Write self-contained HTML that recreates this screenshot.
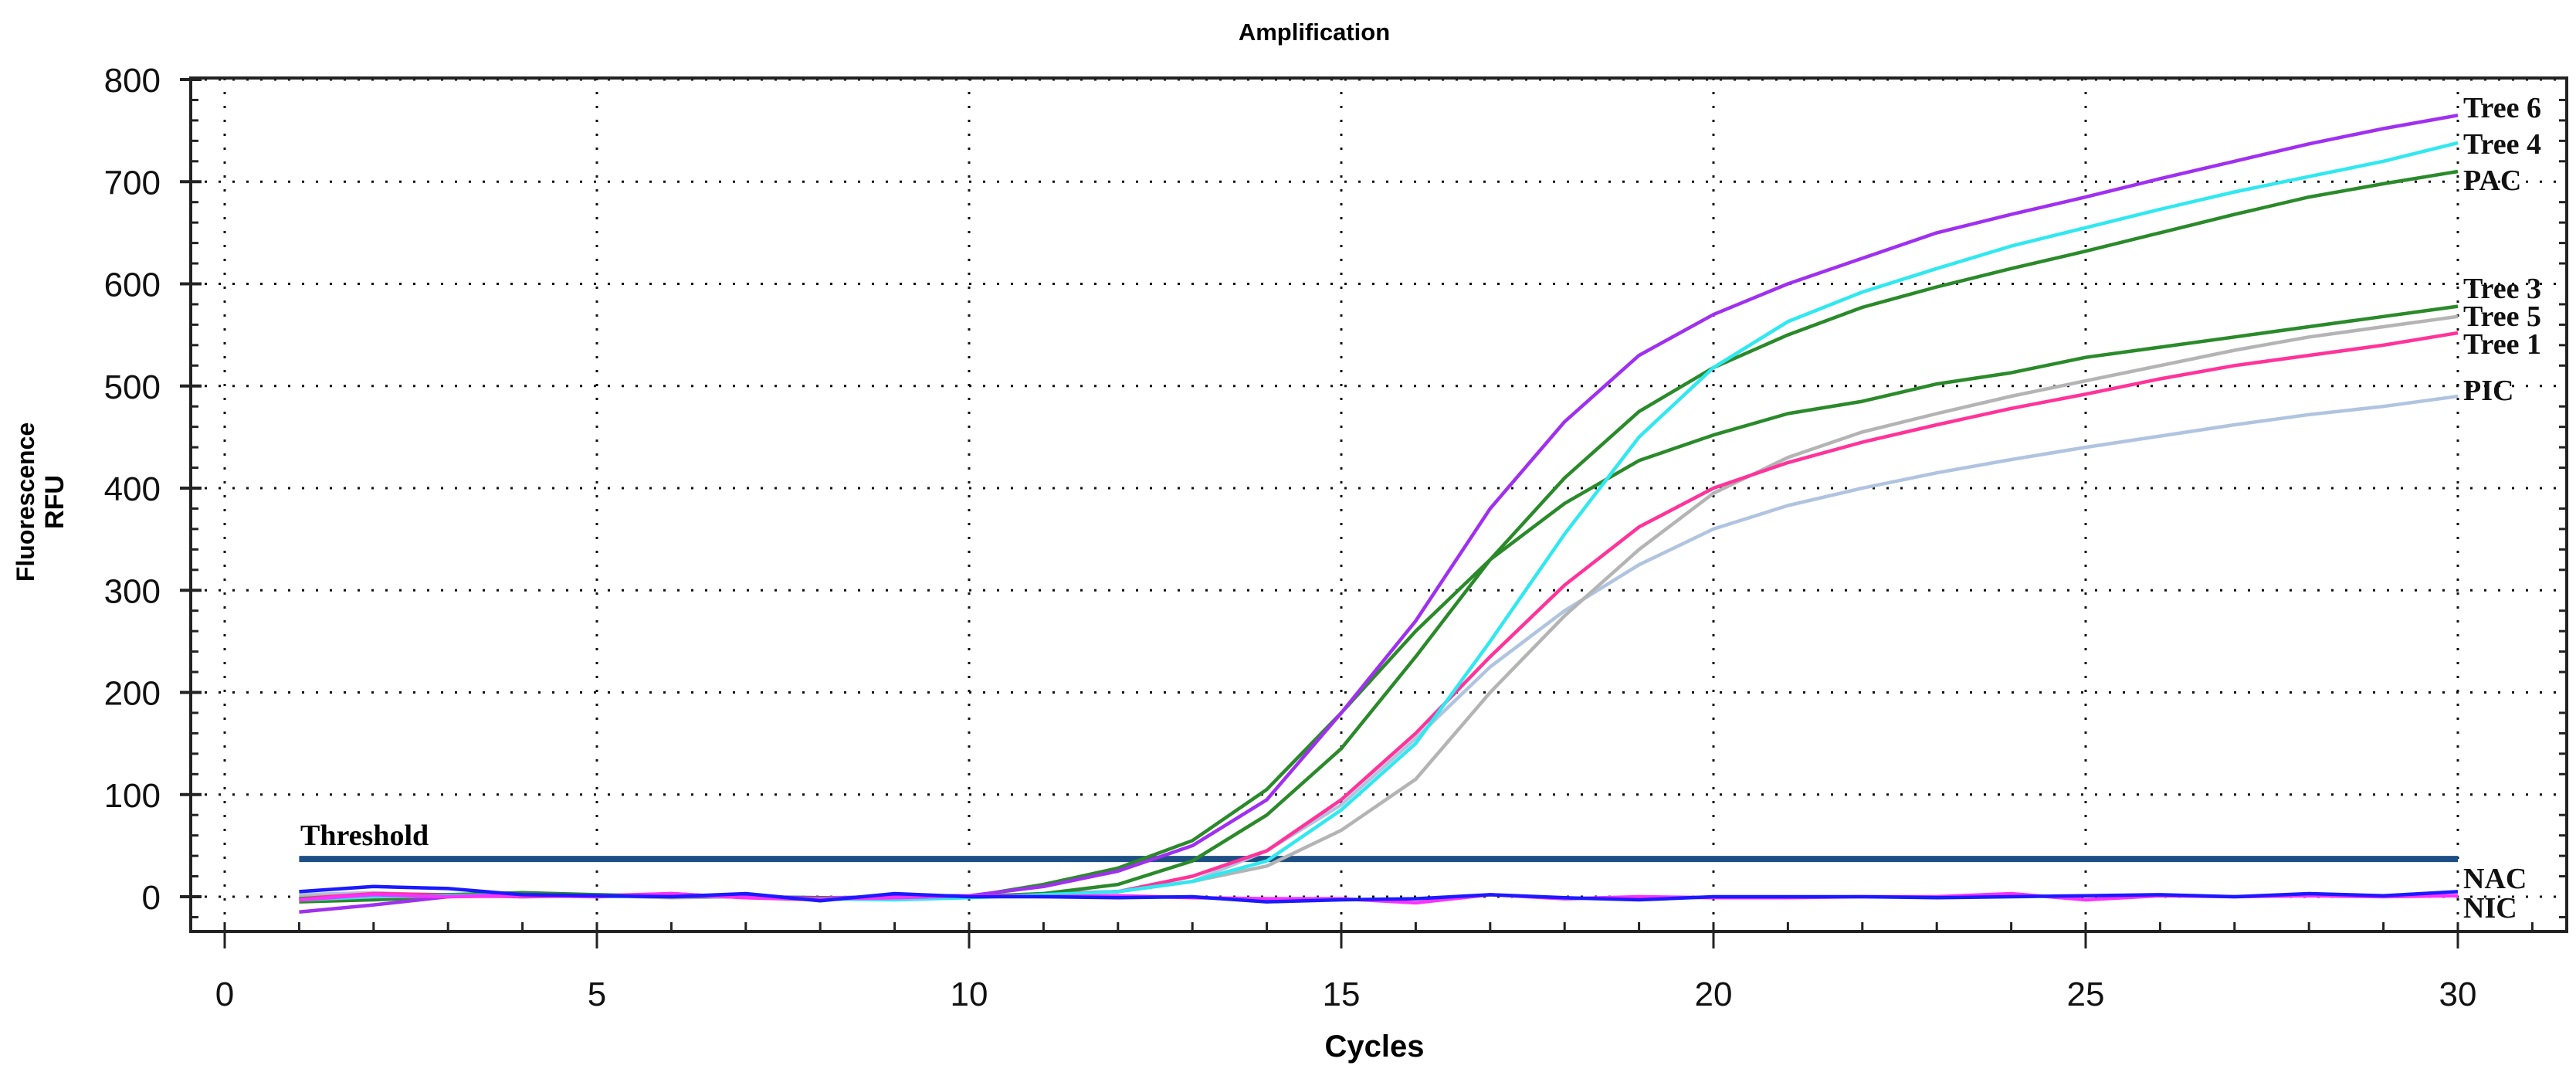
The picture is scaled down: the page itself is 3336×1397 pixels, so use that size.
<!DOCTYPE html>
<html><head><meta charset="utf-8"><style>
html,body{margin:0;padding:0;background:#fff;width:3336px;height:1397px;overflow:hidden}
svg{display:block}
</style></head><body>
<svg id="chart" width="3336" height="1397" xmlns="http://www.w3.org/2000/svg">
<text x="1702" y="52" font-family="Liberation Sans, sans-serif" font-weight="bold" font-size="31" text-anchor="middle">Amplification</text>
<text transform="translate(44,650) rotate(-90)" font-family="Liberation Sans, sans-serif" font-weight="bold" font-size="32" text-anchor="middle">Fluorescence</text>
<text transform="translate(82,650) rotate(-90)" font-family="Liberation Sans, sans-serif" font-weight="bold" font-size="34" text-anchor="middle">RFU</text>
<text x="1780" y="1368" font-family="Liberation Sans, sans-serif" font-weight="bold" font-size="40" text-anchor="middle">Cycles</text>
<g id="grid"></g><g id="series"></g><g id="axes"></g><g id="labels"></g>
</svg>
<script>
const cycles=[1,2,3,4,5,6,7,8,9,10,11,12,13,14,15,16,17,18,19,20,21,22,23,24,25,26,27,28,29,30];
const tree6=[-15,-8,0,2,1,0,1,-2,1,1,10,25,50,95,180,270,380,465,530,570,600,625,650,668,685,703,720,737,752,765];
const tree4=[-3,0,1,2,0,1,0,-2,-3,-1,2,5,15,35,85,150,250,355,450,518,563,592,615,637,655,673,690,705,720,738];
const pac=[-5,-3,0,3,1,2,0,-1,-2,0,3,12,35,80,145,235,330,410,475,518,550,577,597,615,632,650,668,685,698,710];
const tree3=[-2,0,2,4,2,0,1,-3,0,0,12,28,55,105,180,260,330,385,427,452,473,485,502,513,528,538,548,558,568,578];
const tree5=[0,2,1,0,1,-1,0,-2,0,0,2,5,15,30,65,115,200,275,340,395,430,455,473,490,505,520,535,548,558,568];
const tree1=[-2,3,2,0,1,3,-1,-3,0,0,3,5,20,45,95,160,235,305,362,400,425,445,462,478,492,507,520,530,540,552];
const pic=[2,4,1,0,2,1,0,-1,0,1,2,5,15,45,90,155,225,280,325,360,383,400,415,428,440,451,462,472,480,490];
const nac=[5,10,8,2,1,0,3,-4,3,0,0,-1,0,-5,-3,-2,2,-1,-3,0,0,0,-1,0,1,2,0,3,1,5];
const nic=[-3,2,0,1,0,3,-1,-2,-1,1,0,1,-1,-2,-2,-6,2,-2,0,-1,-1,0,0,3,-3,1,0,1,0,1];
const threshold=37;
const yTicks=[0,100,200,300,400,500,600,700,800];
const xTicks=[0,5,10,15,20,25,30];
const seriesNames=['PIC','Tree 5','Tree 1','Tree 3','PAC','Tree 4','Tree 6','NIC','NAC'];

const NS='http://www.w3.org/2000/svg';
const X0=291,XS=(3183-291)/30,Y0=1161,YS=(1161-103)/800;
const L=247,R=3324,T=101,B=1206;
const sx=v=>X0+v*XS, sy=v=>Y0-v*YS;
function mk(tag,attrs,parent){const e=document.createElementNS(NS,tag);for(const k in attrs)e.setAttribute(k,attrs[k]);parent.appendChild(e);return e;}
const grid=document.getElementById('grid'),axes=document.getElementById('axes'),ser=document.getElementById('series'),lab=document.getElementById('labels');

xTicks.forEach(v=>{
  const g=mk('line',{x1:sx(v),x2:sx(v),y1:T,y2:B,stroke:'#111','stroke-width':3,'stroke-dasharray':'3 15'},grid);
  
  
  const t=mk('text',{x:sx(v),y:1302,'font-family':'Liberation Sans, sans-serif','font-size':44,'text-anchor':'middle',fill:'#111'},axes);
  t.textContent=v;
  
  
  const tk=mk('line',{x1:sx(v),x2:sx(v),y1:B,y2:B+22,stroke:'#222','stroke-width':3},axes);
  
  
});
for(let v=0;v<=31;v++){
  const tk=mk('line',{x1:sx(v),x2:sx(v),y1:B-12,y2:B,stroke:'#222','stroke-width':3},axes);
  
  
}
yTicks.forEach(v=>{
  const g=mk('line',{x1:L,x2:R,y1:sy(v),y2:sy(v),stroke:'#111','stroke-width':3,'stroke-dasharray':'3 15'},grid);
  
  
  const t=mk('text',{x:208,y:sy(v)+16,'font-family':'Liberation Sans, sans-serif','font-size':44,'text-anchor':'end',fill:'#111'},axes);
  t.textContent=v;
  
  
  const tk=mk('line',{x1:L-14,x2:L+14,y1:sy(v),y2:sy(v),stroke:'#222','stroke-width':4},axes);
  
  
});
for(let v=-20;v<=800;v+=20){
  if(v%100===0)continue;
  const tk=mk('line',{x1:L,x2:L+10,y1:sy(v),y2:sy(v),stroke:'#222','stroke-width':3},axes);
  
  
  const tk2=mk('line',{x1:R-10,x2:R,y1:sy(v),y2:sy(v),stroke:'#222','stroke-width':3},axes);
  
  
}
const frame=mk('rect',{x:L,y:T,width:R-L,height:B-T,fill:'none',stroke:'#222','stroke-width':4},axes);



const th=mk('line',{x1:sx(1),x2:sx(30),y1:sy(threshold),y2:sy(threshold),stroke:'#1d4f85','stroke-width':8},ser);


const thl=mk('text',{x:389,y:sy(threshold)-18,'font-family':'Liberation Serif, serif','font-weight':'bold','font-size':38},lab);
thl.textContent='Threshold';



const defs=[
 ['PIC',pic,'#b0c4e0','pic-line'],['Tree 5',tree5,'#b4b4b4','tree5-line'],['Tree 1',tree1,'#ff3399','tree1-line'],
 ['Tree 3',tree3,'#2a8a2a','tree3-line'],['PAC',pac,'#2a8a2a','pac-line'],['Tree 4',tree4,'#30e8f0','tree4-line'],
 ['Tree 6',tree6,'#a030f0','tree6-line'],['NIC',nic,'#ff30ff','nic-line'],['NAC',nac,'#1a1aff','nac-line']];
defs.forEach(d=>{
  const pts=cycles.map((c,i)=>sx(c).toFixed(1)+','+sy(d[1][i]).toFixed(1)).join(' ');
  const p=mk('polyline',{points:pts,fill:'none',stroke:d[2],'stroke-width':4.5,'stroke-linejoin':'round'},ser);
  
  
});
const labelNames=['Tree 6','Tree 4','PAC','Tree 3','Tree 5','Tree 1','PIC','NAC','NIC'];
const labelY=[152,199,246,386,422,458,518,1150,1188];
labelNames.forEach((n,i)=>{
  const t=mk('text',{x:3190,y:labelY[i],'font-family':'Liberation Serif, serif','font-weight':'bold','font-size':38,fill:'#111'},lab);
  t.textContent=n;
  
  
});
</script>
</body></html>
